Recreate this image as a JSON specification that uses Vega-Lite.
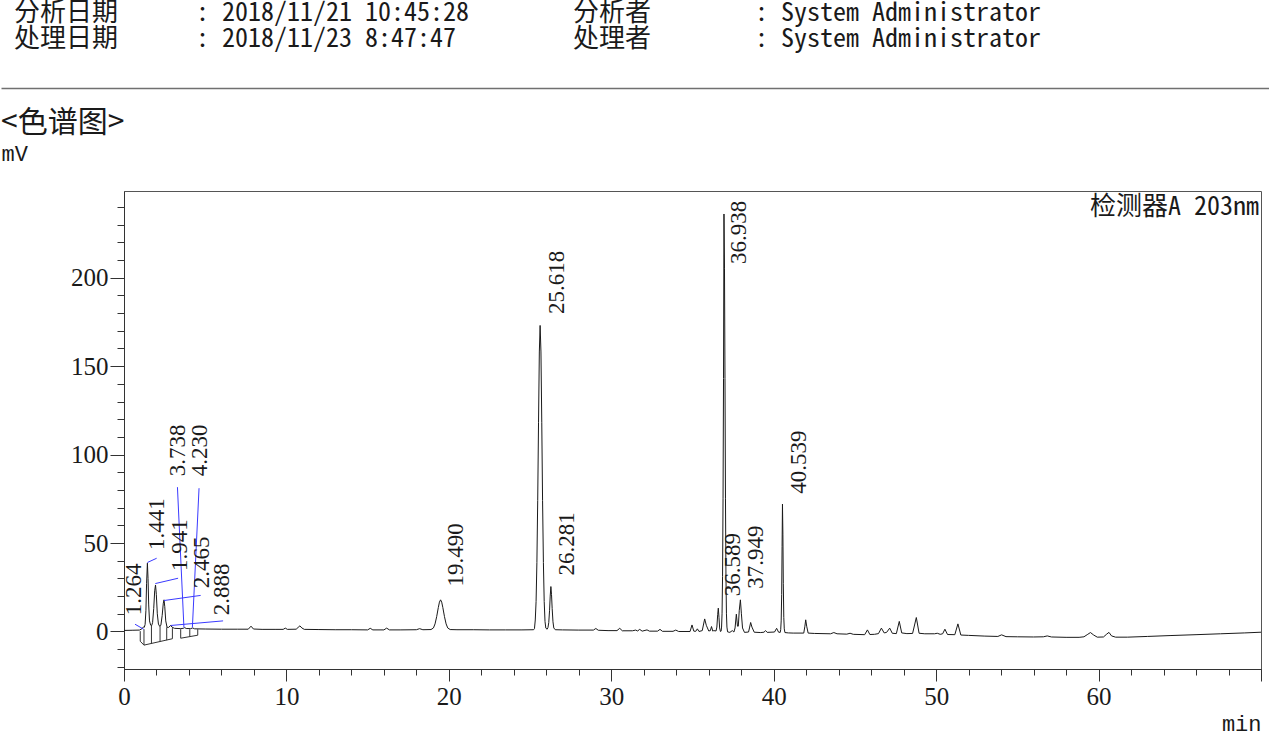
{
  "$schema": "https://vega.github.io/schema/vega-lite/v6.json",
  "padding": {"left": 0, "top": 0, "right": 0, "bottom": 8},
  "background": "white",
  "spacing": 19,
  "align": "none",
  "config": {"view": {"stroke": null}, "font": "Liberation Serif"},
  "datasets": {
    "trace": [
      {"time":0,"mV":0.6},{"time":0.5,"mV":0.7},{"time":0.95,"mV":0.8},{"time":1.1,"mV":1.5},{"time":1.2,"mV":2.6},{"time":1.25,"mV":2.4},{"time":1.3,"mV":4},{"time":1.35,"mV":12},{"time":1.39,"mV":27},{"time":1.441,"mV":38.6},{"time":1.48,"mV":30},{"time":1.52,"mV":15},{"time":1.57,"mV":6},{"time":1.64,"mV":3.6},{"time":1.7,"mV":3.3},{"time":1.76,"mV":5},{"time":1.83,"mV":13},{"time":1.89,"mV":23},{"time":1.941,"mV":26.3},{"time":1.99,"mV":21},{"time":2.05,"mV":10},{"time":2.12,"mV":4.2},{"time":2.2,"mV":2.9},{"time":2.27,"mV":3.5},{"time":2.35,"mV":9},{"time":2.42,"mV":16},{"time":2.465,"mV":17.9},{"time":2.51,"mV":14},{"time":2.57,"mV":6},{"time":2.65,"mV":2.4},{"time":2.75,"mV":2.3},{"time":2.84,"mV":3.2},{"time":2.888,"mV":3.4},{"time":2.95,"mV":2.5},{"time":3.1,"mV":1.8},{"time":3.5,"mV":1.6},{"time":3.65,"mV":1.8},{"time":3.738,"mV":2.2},{"time":3.83,"mV":1.7},{"time":4.1,"mV":1.6},{"time":4.23,"mV":2.0},{"time":4.35,"mV":1.5},{"time":5,"mV":1.4},{"time":6,"mV":1.3},{"time":7,"mV":1.3},{"time":7.65,"mV":1.3},{"time":7.82,"mV":3.0},{"time":7.97,"mV":1.4},{"time":8.5,"mV":1.2},{"time":9.3,"mV":1.2},{"time":9.8,"mV":1.2},{"time":9.93,"mV":1.9},{"time":10.06,"mV":1.2},{"time":10.6,"mV":1.3},{"time":10.72,"mV":2.3},{"time":10.83,"mV":3.2},{"time":10.95,"mV":2.0},{"time":11.1,"mV":1.2},{"time":12,"mV":1.1},{"time":13,"mV":1.0},{"time":14,"mV":1.0},{"time":15,"mV":0.9},{"time":15.16,"mV":1.8},{"time":15.32,"mV":0.9},{"time":16,"mV":0.9},{"time":16.17,"mV":1.9},{"time":16.34,"mV":0.9},{"time":17,"mV":0.9},{"time":18,"mV":1.0},{"time":18.2,"mV":1.6},{"time":18.4,"mV":1.0},{"time":18.9,"mV":1.1},{"time":19.05,"mV":2.0},{"time":19.15,"mV":4.3},{"time":19.25,"mV":8.4},{"time":19.35,"mV":13.5},{"time":19.42,"mV":16.6},{"time":19.49,"mV":17.9},{"time":19.56,"mV":16.6},{"time":19.63,"mV":13.5},{"time":19.73,"mV":8.4},{"time":19.83,"mV":4.3},{"time":19.93,"mV":2.0},{"time":20.08,"mV":1.1},{"time":20.5,"mV":1.0},{"time":21.5,"mV":1.0},{"time":22.5,"mV":0.9},{"time":23.5,"mV":0.9},{"time":24.5,"mV":0.9},{"time":25.22,"mV":1.0},{"time":25.27,"mV":1.6},{"time":25.32,"mV":6.5},{"time":25.37,"mV":17},{"time":25.42,"mV":39},{"time":25.47,"mV":74},{"time":25.52,"mV":118},{"time":25.57,"mV":158},{"time":25.618,"mV":173},{"time":25.67,"mV":158},{"time":25.72,"mV":118},{"time":25.77,"mV":74},{"time":25.82,"mV":39},{"time":25.87,"mV":17},{"time":25.92,"mV":5.7},{"time":25.97,"mV":1.9},{"time":26.05,"mV":1.3},{"time":26.1,"mV":2.2},{"time":26.15,"mV":5},{"time":26.2,"mV":12},{"time":26.24,"mV":20},{"time":26.281,"mV":25.4},{"time":26.32,"mV":21},{"time":26.36,"mV":13},{"time":26.41,"mV":5.5},{"time":26.46,"mV":2},{"time":26.55,"mV":1.0},{"time":27,"mV":0.9},{"time":28,"mV":0.8},{"time":28.9,"mV":0.8},{"time":29.05,"mV":1.7},{"time":29.2,"mV":0.7},{"time":29.8,"mV":0.5},{"time":30.35,"mV":0.5},{"time":30.52,"mV":1.8},{"time":30.68,"mV":0.4},{"time":31.3,"mV":0.4},{"time":31.5,"mV":0.8},{"time":31.62,"mV":0.3},{"time":31.75,"mV":1.2},{"time":31.9,"mV":0.2},{"time":32.2,"mV":0.9},{"time":32.35,"mV":0.2},{"time":32.85,"mV":0.2},{"time":33,"mV":1.2},{"time":33.15,"mV":0.1},{"time":33.8,"mV":0.1},{"time":33.97,"mV":0.8},{"time":34.15,"mV":0},{"time":34.85,"mV":0},{"time":34.97,"mV":3.7},{"time":35.08,"mV":0.2},{"time":35.2,"mV":0.1},{"time":35.3,"mV":1.5},{"time":35.4,"mV":0},{"time":35.6,"mV":0.5},{"time":35.75,"mV":7.1},{"time":35.85,"mV":3.5},{"time":35.92,"mV":2.0},{"time":36,"mV":0.3},{"time":36.1,"mV":0.5},{"time":36.17,"mV":2.8},{"time":36.25,"mV":0.2},{"time":36.3,"mV":0.5},{"time":36.45,"mV":0.3},{"time":36.5,"mV":2.5},{"time":36.55,"mV":9.5},{"time":36.589,"mV":13.2},{"time":36.63,"mV":8},{"time":36.67,"mV":2},{"time":36.72,"mV":0},{"time":36.76,"mV":0.2},{"time":36.79,"mV":2.5},{"time":36.82,"mV":10},{"time":36.85,"mV":31},{"time":36.88,"mV":75},{"time":36.91,"mV":143},{"time":36.938,"mV":236},{"time":36.97,"mV":205},{"time":37,"mV":143},{"time":37.03,"mV":75},{"time":37.06,"mV":31},{"time":37.09,"mV":10},{"time":37.12,"mV":2.5},{"time":37.16,"mV":-0.2},{"time":37.3,"mV":-0.5},{"time":37.45,"mV":0.5},{"time":37.55,"mV":-0.3},{"time":37.62,"mV":2},{"time":37.7,"mV":9.8},{"time":37.77,"mV":3},{"time":37.82,"mV":3},{"time":37.88,"mV":12},{"time":37.949,"mV":17.9},{"time":38.01,"mV":10},{"time":38.08,"mV":2},{"time":38.2,"mV":-0.5},{"time":38.45,"mV":-0.3},{"time":38.52,"mV":2.5},{"time":38.58,"mV":5.1},{"time":38.66,"mV":2.5},{"time":38.8,"mV":-0.4},{"time":39.2,"mV":-0.6},{"time":39.4,"mV":-0.4},{"time":39.5,"mV":0.5},{"time":39.6,"mV":-0.5},{"time":40.05,"mV":-0.3},{"time":40.18,"mV":1.8},{"time":40.3,"mV":-0.4},{"time":40.4,"mV":-0.5},{"time":40.43,"mV":1.0},{"time":40.46,"mV":6},{"time":40.49,"mV":21},{"time":40.515,"mV":48},{"time":40.539,"mV":72},{"time":40.565,"mV":55},{"time":40.59,"mV":27},{"time":40.62,"mV":8},{"time":40.65,"mV":1.5},{"time":40.69,"mV":-0.6},{"time":40.9,"mV":-0.8},{"time":41.2,"mV":-0.9},{"time":41.85,"mV":-0.9},{"time":41.92,"mV":3},{"time":41.97,"mV":6.6},{"time":42.03,"mV":3},{"time":42.12,"mV":-0.9},{"time":42.5,"mV":-1.1},{"time":43.5,"mV":-1.3},{"time":43.7,"mV":-0.6},{"time":43.9,"mV":-1.3},{"time":44.5,"mV":-1.5},{"time":44.7,"mV":-1.0},{"time":44.9,"mV":-1.6},{"time":45.6,"mV":-1.8},{"time":45.77,"mV":0.9},{"time":45.92,"mV":-1.7},{"time":46.2,"mV":-1.6},{"time":46.45,"mV":-1.2},{"time":46.63,"mV":1.9},{"time":46.8,"mV":-0.8},{"time":46.95,"mV":-0.5},{"time":47.14,"mV":1.9},{"time":47.3,"mV":-1.0},{"time":47.55,"mV":-1.2},{"time":47.73,"mV":5.7},{"time":47.88,"mV":-0.8},{"time":48.2,"mV":-1.2},{"time":48.55,"mV":-1.1},{"time":48.78,"mV":7.9},{"time":48.95,"mV":-1.0},{"time":49.3,"mV":-1.3},{"time":49.9,"mV":-1.3},{"time":50.07,"mV":-1.0},{"time":50.25,"mV":-1.6},{"time":50.4,"mV":-1.3},{"time":50.54,"mV":1.3},{"time":50.7,"mV":-1.7},{"time":51.15,"mV":-1.8},{"time":51.34,"mV":4.3},{"time":51.52,"mV":-2.0},{"time":52,"mV":-2.2},{"time":53,"mV":-2.6},{"time":53.8,"mV":-2.8},{"time":54.03,"mV":-1.9},{"time":54.3,"mV":-2.9},{"time":55,"mV":-3.0},{"time":56,"mV":-3.1},{"time":56.6,"mV":-3.0},{"time":56.84,"mV":-2.5},{"time":57.1,"mV":-3.1},{"time":58,"mV":-3.3},{"time":58.8,"mV":-3.3},{"time":59.1,"mV":-3.0},{"time":59.3,"mV":-1.8},{"time":59.5,"mV":-0.6},{"time":59.7,"mV":-2.0},{"time":59.92,"mV":-3.2},{"time":60.3,"mV":-3.1},{"time":60.5,"mV":-1.5},{"time":60.64,"mV":-0.5},{"time":60.8,"mV":-2.5},{"time":61.05,"mV":-3.2},{"time":61.77,"mV":-3.2},{"time":63,"mV":-2.8},{"time":64.4,"mV":-2.3},{"time":66,"mV":-1.8},{"time":67.5,"mV":-1.3},{"time":69,"mV":-0.8},{"time":70,"mV":-0.4}
    ],
    "peaks": [
      {"rt":1.264,"lx":0.60,"ly":9.2},{"rt":1.441,"lx":2.06,"ly":46},{"rt":1.941,"lx":3.45,"ly":34.2},{"rt":2.465,"lx":4.78,"ly":24.5},{"rt":2.888,"lx":6.06,"ly":9.2},{"rt":3.738,"lx":3.31,"ly":87.8},{"rt":4.23,"lx":4.66,"ly":87.8},{"rt":19.49,"lx":20.44,"ly":25.4},{"rt":25.618,"lx":26.63,"ly":179.5},{"rt":26.281,"lx":27.3,"ly":31.7},{"rt":36.938,"lx":37.89,"ly":207.8},{"rt":36.589,"lx":37.51,"ly":19.9},{"rt":37.949,"lx":38.92,"ly":24.1},{"rt":40.539,"lx":41.55,"ly":77.8}
    ],
    "leaders": [
      {"time":0.68,"mV":4.1,"time2":1.21,"mV2":1.3},{"time":1.44,"mV":39,"time2":2.01,"mV2":41.4},{"time":1.93,"mV":27.1,"time2":3.33,"mV2":30.1},{"time":2.46,"mV":17.5,"time2":4.72,"mV2":20.4},{"time":2.88,"mV":3.4,"time2":6.1,"mV2":6.0},{"time":3.29,"mV":81.6,"time2":3.69,"mV2":2.3},{"time":4.62,"mV":81,"time2":4.21,"mV2":2.3}
    ],
    "baselines": [
      {"time":1.0,"mV":0.2,"time2":1.0,"mV2":-5.5},{"time":1.0,"mV":-5.5,"time2":1.23,"mV2":-7.7},{"time":1.23,"mV":1.3,"time2":1.23,"mV2":-7.7},{"time":1.23,"mV":-7.7,"time2":2.98,"mV2":-4.1},{"time":1.69,"mV":3.6,"time2":1.69,"mV2":-6.9},{"time":2.22,"mV":3.0,"time2":2.22,"mV2":-5.8},{"time":2.63,"mV":2.4,"time2":2.63,"mV2":-4.9},{"time":2.98,"mV":1.9,"time2":2.98,"mV2":-4.1},{"time":3.49,"mV":1.3,"time2":3.49,"mV2":-3.8},{"time":3.49,"mV":-3.8,"time2":4.54,"mV2":-2.1},{"time":4.05,"mV":1.3,"time2":4.05,"mV2":-2.9},{"time":4.54,"mV":1.3,"time2":4.54,"mV2":-2.1}
    ]
  },
  "vconcat": [
    {
      "width": 1137,
      "height": 1,
      "title": {
        "text": [
          "分析日期\u00a0\u00a0\u00a0\u00a0\u00a0\u00a0:\u00a02018/11/21\u00a010:45:28\u00a0\u00a0\u00a0\u00a0\u00a0\u00a0\u00a0\u00a0分析者\u00a0\u00a0\u00a0\u00a0\u00a0\u00a0\u00a0\u00a0:\u00a0System\u00a0Administrator",
          "处理日期\u00a0\u00a0\u00a0\u00a0\u00a0\u00a0:\u00a02018/11/23\u00a08:47:47\u00a0\u00a0\u00a0\u00a0\u00a0\u00a0\u00a0\u00a0\u00a0处理者\u00a0\u00a0\u00a0\u00a0\u00a0\u00a0\u00a0\u00a0:\u00a0System\u00a0Administrator"
        ],
        "anchor": "start",
        "frame": "group",
        "dx": -110,
        "offset": 35,
        "font": "Noto Sans Mono CJK SC, Liberation Mono, Noto Sans CJK SC, monospace",
        "fontSize": 26,
        "lineHeight": 26,
        "fontWeight": "normal",
        "color": "#1a1a1a"
      },
      "data": {"values": [{"page": 0}]},
      "mark": {"type": "point", "size": 0, "opacity": 0},
      "encoding": {
        "x": {
          "field": "page", "type": "quantitative",
          "scale": {"domain": [0, 1], "range": [-123, 1146], "nice": false, "zero": false},
          "axis": {"orient": "bottom", "domain": true, "domainColor": "#707070", "domainWidth": 1.5, "ticks": false, "labels": false, "grid": false, "title": null}
        }
      }
    },
    {
      "width": 1137,
      "height": 478,
      "view": {"stroke": "#555555", "strokeWidth": 1},
      "title": {
        "text": "<色谱图>",
        "anchor": "start",
        "frame": "group",
        "dx": -123,
        "offset": 4,
        "font": "Noto Sans CJK SC",
        "fontSize": 30,
        "fontWeight": "normal",
        "color": "#1a1a1a"
      },
      "resolve": {"axis": {"x": "independent", "y": "independent"}},
      "layer": [
        {
          "data": {"name": "trace"},
          "mark": {"type": "line", "color": "#1a1a1a", "strokeWidth": 1, "clip": true},
          "encoding": {
            "x": {
              "field": "time", "type": "quantitative",
              "scale": {"domain": [0, 70], "nice": false, "zero": false},
              "axis": {
                "orient": "bottom",
                "values": [0,10,20,30,40,50,60,70],
                "labelExpr": "datum.value < 70 ? datum.label : ''",
                "tickSize": 12,
                "tickColor": "#333333",
                "domainColor": "#333333",
                "grid": false,
                "labelFont": "Liberation Serif",
                "labelFontSize": 25,
                "labelColor": "#1a1a1a",
                "labelPadding": 3,
                "labelFlush": false,
                "labelOverlap": false,
                "title": "min",
                "titleFont": "Liberation Mono",
                "titleFontSize": 22,
                "titleFontWeight": "normal",
                "titleColor": "#1a1a1a",
                "titleAnchor": "end",
                "titleAlign": "right",
                "titleBaseline": "middle",
                "titleX": 1137,
                "titleY": 54
              }
            },
            "y": {
              "field": "mV", "type": "quantitative",
              "scale": {"domain": [-21.2, 249], "nice": false, "zero": false},
              "axis": {
                "orient": "left",
                "values": [0,50,100,150,200],
                "tickSize": 14,
                "tickColor": "#333333",
                "domainColor": "#333333",
                "grid": false,
                "labelFont": "Liberation Serif",
                "labelFontSize": 25,
                "labelColor": "#1a1a1a",
                "labelPadding": 2,
                "labelFlush": false,
                "labelOverlap": false,
                "title": "mV",
                "titleAngle": 0,
                "titleFont": "Liberation Mono",
                "titleFontSize": 22,
                "titleFontWeight": "normal",
                "titleColor": "#1a1a1a",
                "titleAlign": "left",
                "titleBaseline": "middle",
                "titleX": -123,
                "titleY": -38
              }
            }
          }
        },
        {
          "data": {"name": "baselines"},
          "mark": {"type": "rule", "color": "#333333", "strokeWidth": 1},
          "encoding": {
            "x": {"field": "time", "type": "quantitative", "scale": {"domain": [0, 70], "nice": false, "zero": false},
              "axis": {"orient": "bottom", "values": [0,2,4,6,8,10,12,14,16,18,20,22,24,26,28,30,32,34,36,38,40,42,44,46,48,50,52,54,56,58,60,62,64,66,68,70], "tickSize": 6, "tickColor": "#333333", "labels": false, "domain": false, "grid": false, "title": null}},
            "x2": {"field": "time2"},
            "y": {"field": "mV", "type": "quantitative", "scale": {"domain": [-21.2, 249], "nice": false, "zero": false},
              "axis": {"orient": "left", "values": [-20,-10,0,10,20,30,40,50,60,70,80,90,100,110,120,130,140,150,160,170,180,190,200,210,220,230,240], "tickSize": 7, "tickColor": "#333333", "labels": false, "domain": false, "grid": false, "title": null}},
            "y2": {"field": "mV2"}
          }
        },
        {
          "data": {"name": "leaders"},
          "mark": {"type": "rule", "color": "#3a3aff", "strokeWidth": 1},
          "encoding": {
            "x": {"field": "time", "type": "quantitative", "scale": {"domain": [0, 70], "nice": false, "zero": false}, "axis": null},
            "x2": {"field": "time2"},
            "y": {"field": "mV", "type": "quantitative", "scale": {"domain": [-21.2, 249], "nice": false, "zero": false}, "axis": null},
            "y2": {"field": "mV2"}
          }
        },
        {
          "data": {"name": "peaks"},
          "mark": {"type": "text", "angle": 270, "align": "left", "baseline": "middle", "font": "Liberation Serif", "fontSize": 23, "color": "#1a1a1a"},
          "encoding": {
            "x": {"field": "lx", "type": "quantitative", "scale": {"domain": [0, 70], "nice": false, "zero": false}, "axis": null},
            "y": {"field": "ly", "type": "quantitative", "scale": {"domain": [-21.2, 249], "nice": false, "zero": false}, "axis": null},
            "text": {"field": "rt", "type": "quantitative", "format": ".3f"}
          }
        },
        {
          "data": {"values": [{"detector": "检测器A 203nm"}]},
          "mark": {"type": "text", "align": "right", "baseline": "top", "dx": -2, "dy": 3, "font": "Noto Sans Mono CJK SC, Liberation Mono, Noto Sans CJK SC", "fontSize": 26, "color": "#1a1a1a"},
          "encoding": {
            "x": {"datum": 70, "type": "quantitative", "scale": {"domain": [0, 70], "nice": false, "zero": false}, "axis": null},
            "y": {"datum": 249, "type": "quantitative", "scale": {"domain": [-21.2, 249], "nice": false, "zero": false}, "axis": null},
            "text": {"field": "detector"}
          }
        }
      ]
    }
  ]
}
